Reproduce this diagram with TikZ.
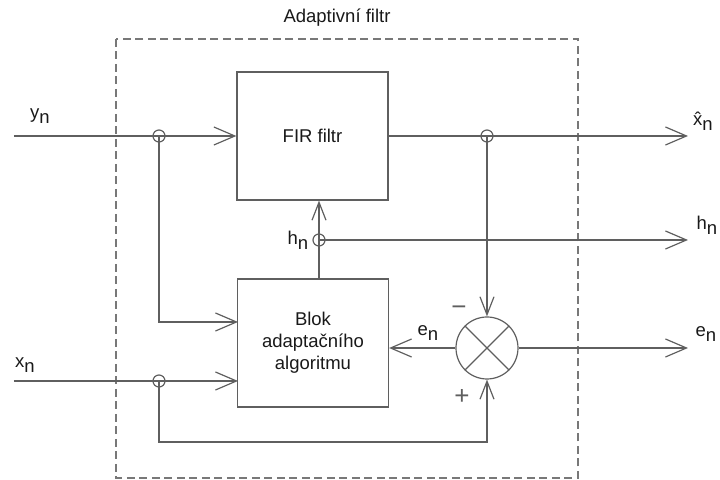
\documentclass[tikz,border=0pt]{standalone}
\usepackage{fontspec}
\setmainfont{Liberation Sans}
\usetikzlibrary{arrows.meta}
\definecolor{lc}{RGB}{95,95,95}
\definecolor{dc}{RGB}{120,120,120}
\definecolor{tc}{RGB}{25,25,25}
\begin{document}
\begin{tikzpicture}[x=0.5pt,y=-0.5pt,
  every node/.style={font=\fontsize{9.25}{11}\selectfont, text=tc, inner sep=0pt},
  conn/.style={draw=lc, line width=0.6pt},
  arr/.style={conn, -{Straight Barb[length=10.5pt,width=9pt]}},
  varr/.style={conn, -{Straight Barb[length=9pt,width=7pt]}},
  blockbox/.style={draw=lc, line width=0.6pt, minimum width=75.5pt, minimum height=64pt, align=center},
  junction/.style={circle, draw=lc, line width=0.6pt, minimum size=6pt},
  sumnode/.style={circle, draw=lc, line width=0.6pt, minimum size=31pt},
  signlbl/.style={font=\fontsize{13}{13}\selectfont, text=lc}
]
\useasboundingbox (0,0) rectangle (720,480);
% dashed frame
\draw[dc, line width=0.6pt, dash pattern=on 4pt off 2.25pt] (116,39) rectangle (578,478);
\node (title) at (337,18) {Adaptivní filtr};

% blocks
\node[blockbox] (fir) at (312.5,136) {FIR filtr};
\node[blockbox] (blok) at (313,343) {Blok\\adaptačního\\algoritmu};
\node[sumnode] (sum) at (487,348) {};
\draw[lc, line width=0.6pt] (sum.north west) -- (sum.south east) (sum.north east) -- (sum.south west);

% free ends and bends
\coordinate (yin) at (14,136);
\coordinate (xin) at (14,381);
\coordinate (xout) at (688,136);
\coordinate (hout) at (688,240);
\coordinate (eout) at (688,348);
\coordinate (fb) at (487,442);
\coordinate (bk1) at (238,322);
\coordinate (bk2) at (238,381);

\node[junction] (jy) at (159,136) {};
\node[junction] (jx) at (159,381) {};
\node[junction] (jxh) at (487,136) {};
\node[junction] (jh) at (319,240) {};

% connectors
\draw[arr] (yin) -- (jy.center) -- (fir.west);
\draw[arr] (jy.center) |- (bk1);
\draw[arr] (xin) -- (jx.center) -- (bk2);
\draw[varr] (jx.center) |- (fb) -- (sum.south);
\draw[arr] (fir.east) -- (jxh.center) -- (xout);
\draw[varr] (jxh.center) -- (sum.north);
\draw[varr] (jh.center |- blok.north) -- (jh.center) -- (jh.center |- fir.south);
\draw[arr] (jh.center) -- (hout);
\draw[arr] (sum.east) -- (eout);
\draw[arr] (sum.west) -- (sum.west -| blok.east);

% labels
\node (lyn) at (40,116) {y\raisebox{-0.5ex}{n}};
\node (lxn) at (25,365) {x\raisebox{-0.5ex}{n}};
\node (lxh) at (703,121) {\^{x}\raisebox{-0.5ex}{n}};
\node (lhr) at (707,225) {h\raisebox{-0.5ex}{n}};
\node (ler) at (706,334) {e\raisebox{-0.5ex}{n}};
\node (lel) at (428,333) {e\raisebox{-0.5ex}{n}};
\node (lhl) at (298,240) {h\raisebox{-0.5ex}{n}};
\node[signlbl] (lminus) at (459,311) {−};
\node[signlbl] (lplus) at (462,397) {+};
\end{tikzpicture}
\end{document}
